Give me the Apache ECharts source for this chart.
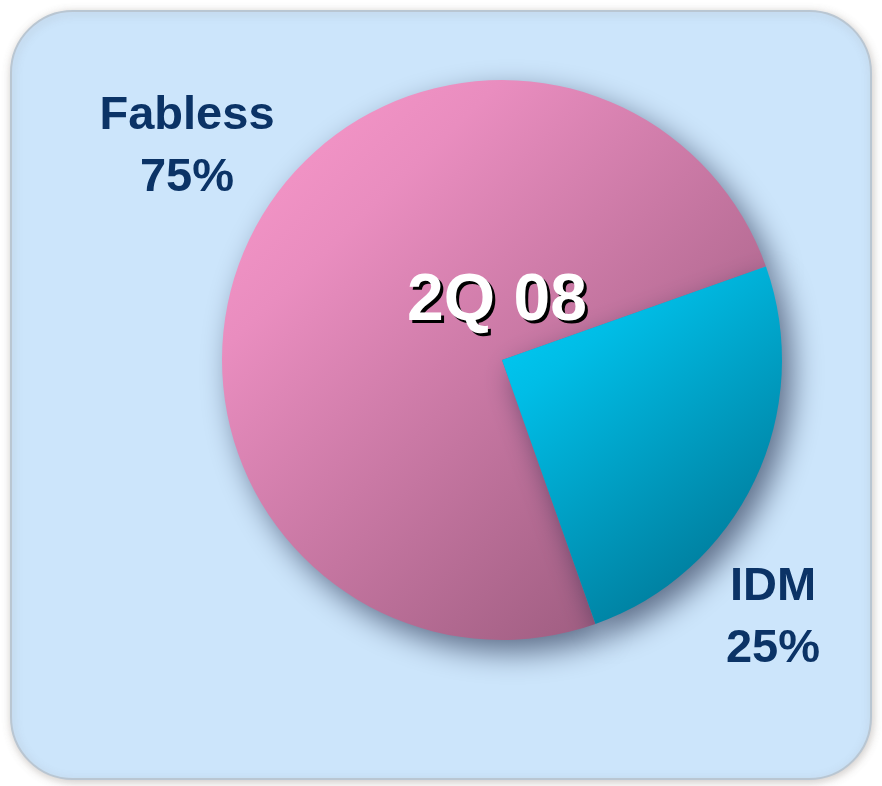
<!DOCTYPE html>
<html>
<head>
<meta charset="utf-8">
<script src="https://cdn.jsdelivr.net/npm/echarts@6/dist/echarts.min.js"></script>
<style>
  html, body { margin: 0; padding: 0; background: #ffffff; }
  #main { width: 882px; height: 786px; }
</style>
</head>
<body>
<div id="main"></div>
<script>
// data
var categories = ['Fabless', 'IDM'];
var shares = [75, 25];
var periodLabel = '2Q 08';

var myChart = echarts.init(document.getElementById('main'));

// label spots (center of each two-line label)
var labelSpots = [[187, 147], [773, 618]];

var seriesData = [];
var fills = [
    ['#fb9acc', '#e98dbf', '#8c5171'],   // pink
    ['#00d2fb', '#00bde6', '#006a87']    // cyan
];
for (var i = 0; i < categories.length; i++) {
    seriesData.push({
        name: categories[i],
        value: shares[i],
        itemStyle: {
            color: new echarts.graphic.LinearGradient(0, 0, 1, 1, [
                { offset: 0, color: fills[i][0] },
                { offset: 0.25, color: fills[i][1] },
                { offset: 1, color: fills[i][2] }
            ])
        }
    });
}

var titleFont = 'bold 66px "Liberation Sans", Arial, sans-serif';

var option = {
    backgroundColor: '#ffffff',
    animation: false,
    graphic: [
        {
            type: 'rect',
            z: -10,
            shape: { x: 11, y: 11, width: 860, height: 768, r: 62 },
            style: {
                fill: '#cce5fb',
                stroke: '#b9c6d2',
                lineWidth: 2,
                shadowBlur: 8,
                shadowColor: 'rgba(120,110,100,0.35)',
                shadowOffsetX: 1,
                shadowOffsetY: 2
            }
        },
        // dark drop copy of the period label
        {
            type: 'text',
            z: 99,
            x: 500,
            y: 305,
            style: {
                text: periodLabel,
                fill: '#000000',
                font: titleFont,
                align: 'center',
                verticalAlign: 'middle'
            }
        },
        {
            type: 'text',
            z: 100,
            x: 497,
            y: 302,
            style: {
                text: periodLabel,
                fill: '#ffffff',
                font: titleFont,
                align: 'center',
                verticalAlign: 'middle'
            }
        }
    ],
    series: [
        {
            name: '2Q 08',
            type: 'pie',
            center: [502, 360],
            radius: 280,
            startAngle: -70.5,
            clockwise: true,
            data: seriesData,
            itemStyle: {
                shadowBlur: 30,
                shadowOffsetX: 10,
                shadowOffsetY: 12,
                shadowColor: 'rgba(20,30,60,0.6)'
            },
            label: {
                show: true,
                position: 'outside',
                formatter: '{b}\n{d}%',
                color: '#0b3366',
                fontFamily: '"Liberation Sans", Arial, sans-serif',
                fontWeight: 'bold',
                fontSize: 47,
                lineHeight: 62,
                align: 'center',
                overflow: 'none',
                width: 300
            },
            labelLine: { show: false },
            labelLayout: function (params) {
                var p = labelSpots[params.dataIndex];
                return { x: p[0], y: p[1], align: 'center', verticalAlign: 'middle' };
            },
            emphasis: { disabled: true }
        }
    ]
};

if (option && typeof option === "object") {
    myChart.setOption(option, true);
}
</script>
</body>
</html>
